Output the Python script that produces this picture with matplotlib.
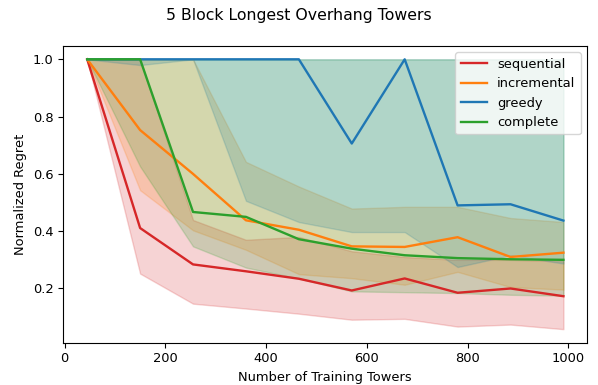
import matplotlib
matplotlib.use("Agg")
import matplotlib.pyplot as plt

# training set sizes
towers = [45, 150, 255, 360, 465, 570, 675, 780, 885, 990]

seq_mean = [1.0, 0.411, 0.284, 0.26, 0.234, 0.193, 0.235, 0.185, 0.20, 0.173]
seq_lo = [1.0, 0.252, 0.147, 0.13, 0.112, 0.091, 0.094, 0.067, 0.074, 0.058]
seq_hi = [1.0, 1.0, 0.439, 0.37, 0.38, 0.33, 0.31, 0.30, 0.30, 0.295]

inc_mean = [1.0, 0.753, 0.60, 0.438, 0.405, 0.347, 0.345, 0.379, 0.31, 0.325]
inc_lo = [1.0, 0.543, 0.403, 0.335, 0.25, 0.236, 0.213, 0.258, 0.205, 0.196]
inc_hi = [1.0, 1.0, 1.0, 0.642, 0.556, 0.479, 0.485, 0.485, 0.446, 0.432]

greedy_mean = [1.0, 1.0, 1.0, 1.0, 1.0, 0.706, 1.0, 0.49, 0.494, 0.437]
greedy_lo = [1.0, 0.98, 1.0, 0.506, 0.432, 0.397, 0.397, 0.275, 0.316, 0.287]
greedy_hi = [1.0] * 10

comp_mean = [1.0, 1.0, 0.467, 0.45, 0.372, 0.339, 0.316, 0.306, 0.302, 0.30]
comp_lo = [1.0, 0.626, 0.347, 0.273, 0.235, 0.19, 0.187, 0.184, 0.178, 0.175]
comp_hi = [1.0] * 10

series = [
    ("sequential", "tab:red", seq_mean, seq_lo, seq_hi),
    ("incremental", "tab:orange", inc_mean, inc_lo, inc_hi),
    ("greedy", "tab:blue", greedy_mean, greedy_lo, greedy_hi),
    ("complete", "tab:green", comp_mean, comp_lo, comp_hi),
]

fs = 9.4
fig, ax = plt.subplots(figsize=(5.98, 3.85), dpi=100)
fig.subplots_adjust(left=0.106, right=0.982, bottom=0.110, top=0.881)

for name, color, mean, lo, hi in series:
    ax.plot(towers, mean, color=color, label=name, linewidth=1.7)
    ax.fill_between(towers, lo, hi, color=color, alpha=0.2)

ax.set_xlabel("Number of Training Towers", fontsize=fs)
ax.set_ylabel("Normalized Regret", fontsize=fs)
ax.tick_params(labelsize=fs)
ax.legend(loc="upper right", fontsize=fs)
fig.suptitle("5 Block Longest Overhang Towers", fontsize=11.3)

fig.savefig("out.png", dpi=100)
